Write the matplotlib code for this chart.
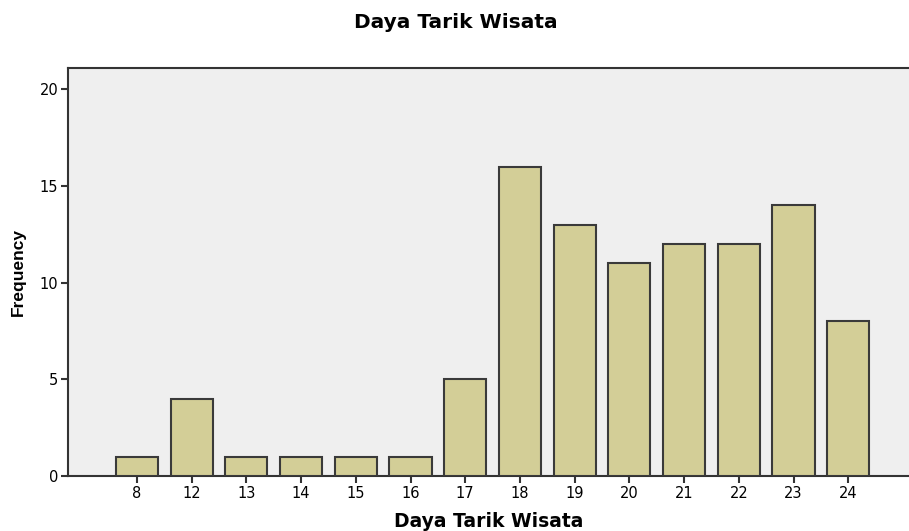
import matplotlib
matplotlib.use("Agg")
import matplotlib.pyplot as plt
import numpy as np

categories = ["8", "12", "13", "14", "15", "16", "17", "18", "19", "20", "21", "22", "23", "24"]
frequency = [1, 4, 1, 1, 1, 1, 5, 16, 13, 11, 12, 12, 14, 8]

plt.rcParams['font.family'] = ['DejaVu Sans']

fig = plt.figure(figsize=(9.09, 5.31), dpi=100)
ax = fig.add_axes([68/909, 55/531, (909-68)/909, (476-68)/531])
ax.set_facecolor('#EFEFEF')

x = np.arange(len(categories))
ax.bar(x, frequency, width=0.77, color='#D3CE97', edgecolor='#3a3a3a', linewidth=1.5, zorder=3)

ax.set_xlim(-1.26, len(categories) - 1 + 1.11)
ax.set_ylim(0, 21.1)
ax.set_xticks(x)
ax.set_xticklabels(categories)
ax.set_yticks([0, 5, 10, 15, 20])

for s in ['left', 'bottom', 'top']:
    ax.spines[s].set_color('#333333')
    ax.spines[s].set_linewidth(1.5)
ax.spines['right'].set_visible(False)
ax.tick_params(axis='both', direction='out', length=5, width=1.5, color='#333333', labelsize=10.5, pad=2)

ax.set_xlabel('Daya Tarik Wisata', fontsize=13.5, fontweight='bold', labelpad=8)
ax.set_ylabel('Frequency', fontsize=12.5, fontweight='bold', labelpad=10,
              family=['Liberation Sans', 'DejaVu Sans'])
fig.text(456/909, 1 - 22/531, 'Daya Tarik Wisata', ha='center', va='center', fontsize=14.5, fontweight='bold')

fig.savefig('out.png', dpi=100)
